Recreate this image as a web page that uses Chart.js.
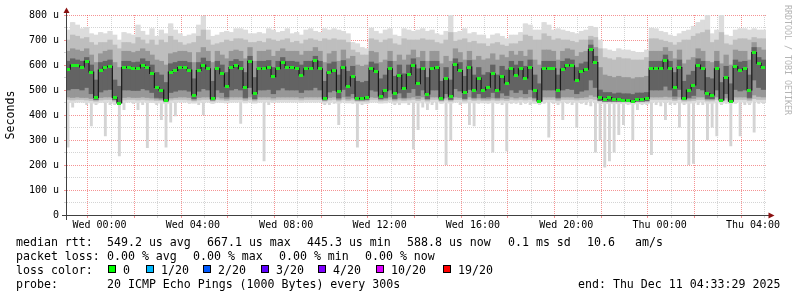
<!DOCTYPE html>
<html><head><meta charset="utf-8">
<script src="https://cdn.jsdelivr.net/npm/chart.js@4.4.1/dist/chart.umd.min.js"></script>
<style>html,body{margin:0;padding:0;background:#fff;overflow:hidden}#wrap{position:relative;width:797px;height:297px}canvas{display:block}</style>
</head><body><div id="wrap"><canvas id="c" width="797" height="297"></canvas></div>
<script>
// sampling grid: hours relative to Wed 00:00, one sample every 12 minutes
const START_H = -1.35, STEP_H = 0.2;
const X_MIN_H = -1.393, X_MAX_H = 28.558;   // Tue 22:36:25 .. Thu 04:33:29

// median RTT (microseconds)
const medianUs = [
583,600,597,592,615,572,470,580,592,595,470,448,590,592,586,588,600,590,566,510,500,460,572,578,590,590,580,480,578,600,
585,465,585,565,515,590,598,585,510,615,485,585,585,592,553,585,612,590,590,587,560,585,585,617,585,465,572,580,495,592,
516,553,467,465,470,587,575,476,497,585,487,559,505,562,600,525,585,484,585,590,468,545,475,603,578,490,592,500,548,500,
511,565,500,555,528,585,560,585,548,590,500,456,585,587,585,500,584,600,597,540,575,583,662,610,471,462,470,464,463,460,
458,455,462,462,466,585,588,585,620,587,509,590,465,500,520,600,585,485,480,585,460,550,455,593,580,585,500,650,607,590];

// smoke: fastest / slowest ping of the 20
const minUs = [
270,430,450,450,440,355,440,450,315,440,440,235,420,450,445,420,440,268,450,440,380,270,370,395,450,450,445,450,440,400,
450,445,450,450,448,450,450,365,450,450,450,450,215,440,450,450,450,450,450,450,450,450,450,450,450,440,440,445,360,450,
450,445,270,440,445,450,450,450,450,450,440,440,450,440,262,340,430,420,440,420,445,200,300,450,440,450,360,355,445,450,
445,250,445,440,255,445,445,440,445,440,445,440,445,310,445,440,380,445,440,350,445,440,435,250,300,190,215,250,320,360,
440,300,420,440,440,240,440,435,380,440,440,350,440,200,205,440,440,300,350,315,440,445,275,445,315,440,440,330,445,445];
const maxUs = [
740,770,760,745,750,725,720,730,725,735,720,700,730,725,720,760,735,720,745,715,740,725,765,740,725,715,720,725,760,795,
740,715,720,730,735,730,745,745,740,725,725,730,725,745,740,730,735,745,725,730,720,740,745,735,730,745,740,745,740,735,
725,690,685,670,665,748,735,725,740,745,720,715,745,740,735,740,745,735,740,725,720,735,800,730,735,745,725,730,720,720,
705,720,725,715,705,720,720,730,765,760,740,740,770,760,740,745,740,735,730,725,735,740,755,750,700,665,660,655,665,660,
660,655,650,650,660,748,745,735,730,720,715,725,735,740,755,770,780,800,725,740,800,720,715,740,745,745,740,745,740,740];
// lower edge of the dense light smoke (without the single fast outliers)
const lightLoUs = [
452,450,452,452,450,448,447,450,452,452,447,445,450,452,452,450,452,450,450,448,448,445,450,452,452,452,450,447,450,452,
452,447,452,450,448,452,452,452,448,452,447,452,452,452,450,452,452,452,452,452,450,452,452,452,452,447,450,452,447,452,
448,450,447,447,447,452,452,447,448,452,447,450,448,450,452,448,452,447,452,452,447,450,447,452,452,447,452,448,450,448,
448,450,448,450,448,452,450,452,450,452,447,445,452,452,452,448,452,452,452,450,452,452,455,452,447,445,445,445,445,445,
445,443,445,445,445,452,452,452,452,452,448,452,447,447,448,452,452,447,447,452,447,450,446,452,452,452,448,455,452,452];

// smoke: outer, middle and inner ping bands
const band2Lo = [
462,460,462,462,460,458,455,460,462,462,455,452,460,462,462,460,462,460,460,458,458,452,460,462,462,462,460,456,460,462,
462,455,462,460,458,462,462,462,458,462,456,462,462,462,460,462,462,462,462,462,460,462,462,462,462,455,460,462,456,462,
458,460,455,455,455,462,462,456,458,462,456,460,458,460,462,458,462,456,462,462,455,460,455,462,462,456,462,458,460,458,
458,460,458,460,458,462,460,462,460,462,456,452,462,462,462,458,462,462,462,460,462,462,465,462,455,452,452,452,452,452,
452,450,452,452,452,462,462,462,462,462,458,462,455,456,458,462,462,456,456,462,455,460,453,462,462,462,458,465,462,462];
const band2Hi = [
700,720,715,705,710,690,680,690,690,700,680,665,690,690,685,710,700,685,700,680,700,690,715,700,690,680,685,690,715,740,
700,680,685,690,700,695,705,705,700,690,690,695,690,705,700,695,700,705,690,695,685,700,705,700,695,705,700,705,700,700,
690,660,650,640,640,705,700,690,700,705,685,680,705,700,700,700,705,700,700,690,685,700,730,695,700,705,690,695,685,685,
675,685,690,680,675,685,685,695,720,715,700,700,725,715,700,705,700,700,695,690,700,700,715,710,665,630,625,620,630,625,
625,620,620,620,630,705,705,700,695,690,680,690,700,700,715,725,730,740,690,700,730,685,680,700,705,705,700,710,705,705];
const band3Lo = [
472,470,472,470,470,466,460,470,472,472,460,455,470,472,470,470,472,470,468,464,462,455,468,470,472,472,470,460,470,472,
472,460,472,468,464,472,472,472,464,472,462,472,472,472,468,472,472,472,472,472,468,472,472,472,472,460,470,472,462,472,
464,468,460,460,460,472,470,462,464,472,462,468,464,468,472,465,472,462,472,472,460,468,460,472,470,462,472,464,468,464,
464,468,464,468,465,472,468,472,468,472,464,455,472,472,472,464,472,472,472,468,470,472,480,474,460,455,455,455,455,455,
455,453,455,455,456,472,472,472,474,472,464,472,460,464,466,472,472,462,462,472,460,468,458,472,472,472,464,480,474,472];
const band3Hi = [
655,665,660,655,665,640,610,645,655,660,610,590,655,655,650,655,665,655,640,620,615,600,645,650,655,655,650,610,650,670,
655,610,655,640,625,655,660,655,625,670,615,655,655,660,635,655,665,655,655,655,640,655,655,670,655,610,645,655,615,660,
625,635,600,595,600,655,650,610,620,655,615,640,620,640,660,630,655,615,655,655,605,635,615,665,650,620,655,620,635,620,
625,645,620,640,630,655,640,655,635,660,620,600,660,660,655,620,655,665,660,635,650,655,700,670,590,560,555,550,555,550,
550,545,550,550,555,655,655,655,670,655,625,660,605,620,630,665,655,615,610,655,605,640,600,660,655,655,620,690,670,660];
const band4Lo = [
500,505,505,500,510,485,462,492,500,502,462,452,500,500,498,498,505,500,490,470,468,455,490,495,500,500,495,465,495,505,
500,460,500,490,472,500,505,500,470,510,465,500,500,502,485,500,508,500,500,500,490,500,500,510,500,460,492,498,468,502,
475,485,460,460,462,500,495,465,470,500,466,488,470,490,505,478,500,465,500,500,460,485,462,505,496,466,502,470,485,470,
472,490,470,488,478,500,490,500,485,502,470,455,500,500,500,470,500,505,502,485,495,500,540,510,458,455,455,455,455,455,
455,452,455,455,457,500,500,500,515,500,475,502,462,470,478,505,500,466,465,500,460,485,455,502,496,500,470,540,510,502];
const band4Hi = [
615,625,620,615,630,600,540,610,615,620,540,515,615,615,610,612,625,615,600,570,560,530,605,610,615,615,610,545,610,628,
615,535,615,600,570,615,622,615,570,635,550,615,615,618,590,615,630,615,615,612,600,615,615,635,615,535,605,612,560,618,
575,595,535,530,535,612,605,545,560,615,555,600,565,600,625,585,615,550,615,615,535,590,540,625,610,555,618,560,590,560,
570,600,560,595,580,615,600,615,595,620,560,525,615,615,615,560,615,625,620,590,605,612,680,635,500,490,490,485,488,485,
485,482,488,488,490,615,615,615,640,615,570,620,535,560,575,625,615,550,545,615,530,595,525,620,612,615,560,670,630,620];

// axis tick labels
const xTickHours = [0, 4, 8, 12, 16, 20, 24, 28];
const xTickLabels = ['Wed 00:00','Wed 04:00','Wed 08:00','Wed 12:00','Wed 16:00','Wed 20:00','Thu 00:00','Thu 04:00'];
const yTickValues = [0, 100, 200, 300, 400, 500, 600, 700, 800];
const yTickLabels = ['0','100 u','200 u','300 u','400 u','500 u','600 u','700 u','800 u'];

// legend
const lossLabels = ['0','1/20','2/20','3/20','4/20','10/20','19/20'];
const lossColors = ['#00ff00','#00b8ff','#0059ff','#5e00ff','#7e00ff','#dd00ff','#ff0000'];

const sampleHours = medianUs.map((_, i) => START_H + i * STEP_H);
const pts = arr => sampleHours.map((t, i) => ({x: t, y: arr[i]}));
const rng = (lo, hi) => sampleHours.map((t, i) => ({x: t, y: [lo[i], hi[i]]}));

const MONO = "'DejaVu Sans Mono', monospace";
Chart.defaults.font.family = MONO;

const dash = document.createElement('canvas');
dash.width = 4; dash.height = 3;
{ const d = dash.getContext('2d'); d.fillStyle = '#1ef01e'; d.fillRect(0, 0, 4, 3); }

const MAJ = 'rgba(235,40,40,0.5)', MIN = 'rgba(160,160,160,0.45)';

const decor = {
  id: 'decor',
  afterDraw(chart) {
    const ctx = chart.ctx, a = chart.chartArea;
    ctx.save();
    ctx.strokeStyle = '#404040'; ctx.lineWidth = 1;
    ctx.beginPath();
    ctx.moveTo(a.left - 0.5, a.bottom + 5); ctx.lineTo(a.left - 0.5, a.top - 2);
    ctx.moveTo(a.left - 5, a.bottom + 0.5); ctx.lineTo(a.right + 3, a.bottom + 0.5);
    ctx.stroke();
    ctx.fillStyle = '#8b1010';
    ctx.beginPath(); ctx.moveTo(a.left - 0.5, a.top - 7.5); ctx.lineTo(a.left - 3.5, a.top - 2); ctx.lineTo(a.left + 2.5, a.top - 2); ctx.closePath(); ctx.fill();
    ctx.beginPath(); ctx.moveTo(a.right + 8.5, a.bottom + 0.5); ctx.lineTo(a.right + 2.5, a.bottom - 2.5); ctx.lineTo(a.right + 2.5, a.bottom + 3.5); ctx.closePath(); ctx.fill();

    // y axis title
    ctx.fillStyle = '#000';
    ctx.font = '11.6px ' + MONO;
    ctx.textAlign = 'center'; ctx.textBaseline = 'middle';
    ctx.save(); ctx.translate(10.5, 115); ctx.rotate(-Math.PI / 2); ctx.fillText('Seconds', 0, 0); ctx.restore();
    // watermark
    ctx.save(); ctx.translate(787.5, 60); ctx.rotate(Math.PI / 2);
    ctx.fillStyle = '#b4b4b4'; ctx.font = '8.3px ' + MONO; ctx.fillText('RRDTOOL / TOBI OETIKER', 0, 0); ctx.restore();

    // footer legend
    ctx.textAlign = 'left'; ctx.textBaseline = 'alphabetic';
    ctx.fillStyle = '#000'; ctx.font = '11.6px ' + MONO;
    const rows = [
      [246, [[16,'median rtt:'],[107,'549.2 us avg'],[207,'667.1 us max'],[307,'445.3 us min'],[407,'588.8 us now'],[508,'0.1 ms sd'],[587,'10.6'],[635,'am/s']]],
      [260, [[16,'packet loss:'],[107,'0.00 % avg'],[193,'0.00 % max'],[279,'0.00 % min'],[365,'0.00 % now']]],
      [274, [[16,'loss color:']]],
      [288, [[16,'probe:'],[107,'20 ICMP Echo Pings (1000 Bytes) every 300s'],[578,'end: Thu Dec 11 04:33:29 2025']]]
    ];
    rows.forEach(([y, items]) => items.forEach(([x, s]) => ctx.fillText(s, x, y)));
    const sqX = [108, 146, 203, 261, 318, 376, 443];
    lossLabels.forEach((lab, i) => {
      ctx.fillStyle = lossColors[i]; ctx.fillRect(sqX[i], 265, 8, 8);
      ctx.strokeStyle = '#000'; ctx.lineWidth = 1; ctx.strokeRect(sqX[i] + 0.5, 265.5, 7, 7);
      ctx.fillStyle = '#000'; ctx.fillText(lab, sqX[i] + 15, 274);
    });
    ctx.restore();
  }
};

new Chart(document.getElementById('c'), {
  type: 'bar',
  data: {
    datasets: [
      { type: 'line', data: pts(medianUs), borderColor: '#1a1a1a', borderWidth: 1.2, stepped: 'middle',
        pointStyle: dash, pointRadius: 2, pointHoverRadius: 2, fill: false },
      { data: rng(band4Lo, band4Hi), backgroundColor: '#636363' },
      { data: rng(band3Lo, band3Hi), backgroundColor: '#979797' },
      { data: rng(band2Lo, band2Hi), backgroundColor: '#bebebe' },
      { data: rng(lightLoUs, maxUs), backgroundColor: '#dcdcdc' },
      { data: rng(minUs, maxUs), backgroundColor: '#d4d4d4', barPercentage: 0.62 }
    ]
  },
  options: {
    responsive: false, animation: false, events: [],
    datasets: { bar: { grouped: false, barPercentage: 1, categoryPercentage: 1, borderWidth: 0 } },
    layout: { padding: { top: 15, right: 31, bottom: 0, left: 0 } },
    plugins: { legend: { display: false }, tooltip: { enabled: false } },
    scales: {
      x: {
        type: 'linear', min: X_MIN_H, max: X_MAX_H, offset: false, z: 1,
        afterFit: s => { s.height = 82; },
        grid: { color: c => (c.tick && c.tick.value % 2 === 0) ? MAJ : MIN, tickLength: 3 },
        border: { display: false, dash: [1, 1] },
        ticks: {
          stepSize: 1, includeBounds: false, autoSkip: false, maxRotation: 0, minRotation: 0, padding: 1,
          color: '#000', font: { size: 10, family: MONO },
          callback: v => { const k = xTickHours.indexOf(v); return k >= 0 ? xTickLabels[k] : ''; }
        }
      },
      y: {
        min: 0, max: 800, z: 1,
        afterFit: s => { s.width = 67; },
        grid: { color: c => (c.tick && c.tick.value % 100 === 0) ? MAJ : MIN, tickLength: 3 },
        border: { display: false, dash: [1, 1] },
        ticks: {
          stepSize: 50, autoSkip: false, padding: 5, color: '#000', font: { size: 10, family: MONO },
          callback: v => { const k = yTickValues.indexOf(v); return k >= 0 ? yTickLabels[k] : ''; }
        }
      }
    }
  },
  plugins: [decor]
});
</script>
</body></html>
